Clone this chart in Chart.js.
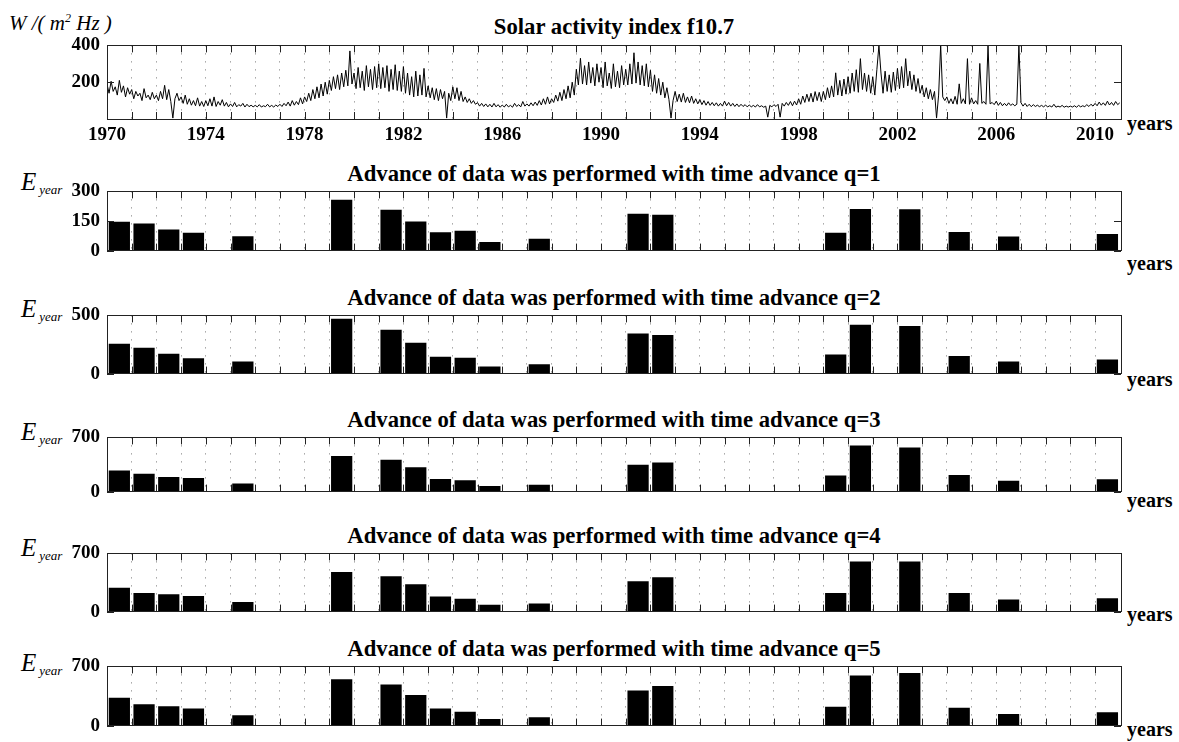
<!DOCTYPE html>
<html>
<head>
<meta charset="utf-8">
<script src="https://cdn.jsdelivr.net/npm/chart.js@4.4.1/dist/chart.umd.min.js"></script>
<style>
  body { margin: 0; background: #fff; }
  #page { position: relative; width: 1179px; height: 742px; overflow: hidden;
          font-family: 'Liberation Serif', 'Times New Roman', serif; color: #000; }
  #page canvas { position: absolute; left: 0; }
  .title { position: absolute; left: 107px; width: 1014px; text-align: center; font-weight: bold;
           font-size: 22.7px; line-height: 22px; white-space: nowrap; }
  .years { position: absolute; left: 1127px; font-weight: bold; font-size: 20px; line-height: 20px; }
  .ylab { position: absolute; font-style: italic; white-space: nowrap; }
</style>
</head>
<body>
<div id="page"></div>
<script>
// x range of every panel (years)
const xMin = 1970;
const xMax = 2011.05;
const xLabelEvery = 4;

const f107Start = 1970;
const f107PerYear = 12;
const f107 = [
  190,140,205,150,175,130,210,145,180,120,170,135, // 1970
  160,110,150,125,140,100,165,115,130,105,145,110, // 1971
  130,100,150,110,183,105,160,95,5,110,140,100,    // 1972
  120,85,130,80,110,75,100,72,115,70,95,68,        // 1973
  100,72,110,70,120,68,95,75,105,70,90,66,         // 1974
  82,68,90,66,78,70,85,65,80,67,75,66,             // 1975
  74,66,78,65,72,67,80,66,74,65,76,68,             // 1976
  80,68,85,72,92,70,100,75,95,78,115,82,           // 1977
  120,95,140,100,160,110,175,115,190,125,200,135,  // 1978
  210,155,230,165,240,160,250,175,265,180,370,190, // 1979
  250,165,280,170,260,155,290,175,270,160,285,170, // 1980
  300,165,280,170,290,150,270,160,295,155,260,150, // 1981
  285,140,250,130,230,120,260,125,240,130,275,120, // 1982
  180,115,170,105,165,100,160,110,150,5,140,100,   // 1983
  175,110,170,100,150,95,120,90,110,85,100,80,     // 1984
  89,70,85,68,82,66,80,65,85,66,78,64,             // 1985
  76,65,80,66,74,64,85,68,78,66,95,70,             // 1986
  82,70,88,72,92,74,100,76,110,80,120,82,          // 1987
  110,90,130,97,145,100,160,110,180,115,200,130,   // 1988
  270,185,330,190,290,185,310,195,280,180,300,200, // 1989
  280,170,310,180,250,166,300,175,260,170,290,185, // 1990
  270,185,300,190,360,195,310,185,290,180,300,175, // 1991
  265,150,240,140,220,130,200,115,170,105,5,100,   // 1992
  150,95,135,92,140,90,120,88,125,85,110,82,       // 1993
  106,78,100,75,95,74,90,72,88,70,85,70,           // 1994
  97,72,90,70,85,68,82,67,80,68,78,66,             // 1995
  76,66,74,65,78,66,72,64,70,10,74,66,             // 1996
  78,68,80,10,85,70,90,74,95,72,97,76,             // 1997
  110,80,125,90,135,95,140,92,149,100,145,95,      // 1998
  150,105,170,115,180,120,251,130,210,125,217,135, // 1999
  230,140,250,150,268,145,328,160,250,150,240,140, // 2000
  230,130,268,400,250,140,260,150,240,145,255,155, // 2001
  275,165,285,170,328,180,260,160,240,150,220,140, // 2002
  183,120,170,110,160,105,150,5,130,400,120,100,   // 2003
  120,85,110,82,123,80,191,85,110,82,328,80,       // 2004
  115,82,100,80,302,85,95,80,400,82,90,78,         // 2005
  97,74,90,72,85,72,88,74,82,72,80,400,            // 2006
  89,70,85,68,80,67,78,68,75,67,74,66,             // 2007
  75,66,72,65,80,64,70,65,74,64,70,65,             // 2008
  70,65,72,64,74,66,72,67,78,68,80,70,             // 2009
  85,72,92,75,88,74,97,76,90,74,95,78,             // 2010
  88
];

// yearly energy E_year for time advance q = 1..5
const barYears = [1970, 1971, 1972, 1973, 1975, 1979, 1981, 1982, 1983, 1984,
                  1985, 1987, 1991, 1992, 1999, 2000, 2002, 2004, 2006, 2010];
const eQ1 = [146, 137, 107, 91, 73, 258, 207, 147, 93, 101, 44, 60, 187, 182, 90, 211, 210, 94, 72, 84];
const eQ2 = [257, 222, 170, 132, 105, 472, 377, 265, 145, 137, 62, 80, 345, 332, 165, 420, 410, 152, 105, 122];
const eQ3 = [272, 230, 190, 176, 105, 460, 410, 313, 163, 148, 73, 90, 348, 377, 209, 596, 571, 213, 140, 158];
const eQ4 = [287, 223, 210, 189, 115, 477, 426, 328, 183, 156, 81, 98, 365, 413, 223, 602, 602, 223, 145, 162];
const eQ5 = [330, 251, 230, 201, 122, 549, 485, 363, 201, 165, 79, 100, 416, 467, 223, 592, 621, 212, 136, 158];
const eSeries = [eQ1, eQ2, eQ3, eQ4, eQ5];
const eMax = [300, 500, 700, 700, 700];
const eStep = [150, 500, 700, 700, 700];

const topTitle = 'Solar activity index f10.7';
const barTitle = 'Advance of data was performed with time advance q=';

// page layout (pixels)
const topLayout = { top: 41, bottom: 119, titleBase: 34, yearsBase: 130 };
const barLayout = [
  { top: 187, bottom: 255, titleBase: 181, yearsBase: 270, eBase: 190 },
  { top: 311, bottom: 378, titleBase: 305, yearsBase: 386, eBase: 317 },
  { top: 433, bottom: 496, titleBase: 427, yearsBase: 507, eBase: 440 },
  { top: 549, bottom: 616, titleBase: 543, yearsBase: 621, eBase: 556 },
  { top: 662, bottom: 730, titleBase: 656, yearsBase: 736, eBase: 671 }
];
const padTop = 14;
const padBottom = 14;
const xAxisH = 30;

Chart.defaults.font.family = "'Liberation Serif', 'Times New Roman', serif";
Chart.defaults.color = '#000';

const page = document.getElementById('page');

function addText(cls, text, top, extra) {
  const d = document.createElement('div');
  d.className = cls;
  d.style.top = top + 'px';
  if (extra) Object.assign(d.style, extra);
  d.innerHTML = text;
  page.appendChild(d);
  return d;
}

function addCanvas(top, height) {
  const c = document.createElement('canvas');
  c.width = 1179;
  c.height = height;
  c.style.top = top + 'px';
  page.appendChild(c);
  return c;
}

// box, inward tick marks
const boxPlugin = {
  id: 'matlabBox',
  afterDraw(chart) {
    const { ctx, chartArea: a, scales: { x, y } } = chart;
    ctx.save();
    ctx.strokeStyle = '#222';
    ctx.lineWidth = 1;
    ctx.beginPath();
    x.ticks.forEach(t => {
      if (!Number.isInteger(t.value)) return;
      const px = Math.round(x.getPixelForValue(t.value)) + 0.5;
      ctx.moveTo(px, a.bottom); ctx.lineTo(px, a.bottom - 7);
      ctx.moveTo(px, a.top); ctx.lineTo(px, a.top + 7);
    });
    y.ticks.forEach(t => {
      const py = Math.round(y.getPixelForValue(t.value)) + 0.5;
      ctx.moveTo(a.left, py); ctx.lineTo(a.left + 7, py);
      ctx.moveTo(a.right, py); ctx.lineTo(a.right - 7, py);
    });
    ctx.stroke();
    ctx.strokeRect(Math.round(a.left) + 0.5, Math.round(a.top) + 0.5,
                   Math.round(a.width), Math.round(a.height));
    ctx.restore();
  }
};

function makeOptions(yMax, yStep, showYears, hideZero) {
  return {
    responsive: false,
    animation: false,
    layout: { padding: { top: padTop, right: 58, bottom: showYears ? 0 : padBottom, left: 0 } },
    plugins: { legend: { display: false }, tooltip: { enabled: false } },
    scales: {
      x: {
        type: 'linear', min: xMin, max: xMax, offset: false,
        grid: { display: true, offset: false, color: '#777', lineWidth: 1, drawTicks: false },
        border: { display: false, dash: [1, 7] },
        ticks: {
          display: showYears, stepSize: 1, autoSkip: false, maxTicksLimit: 100,
          maxRotation: 0, minRotation: 0, padding: 5,
          font: { size: 19, weight: 'bold' }, color: '#000',
          callback: v => (Number.isInteger(v) && (v - xMin) % xLabelEvery === 0 ? String(v) : '')
        },
        afterFit: s => { s.height = showYears ? xAxisH : 0; }
      },
      y: {
        min: 0, max: yMax,
        grid: { display: false, drawTicks: false },
        border: { display: false },
        ticks: {
          stepSize: yStep, padding: 7, font: { size: 19, weight: 'bold' }, color: '#000',
          callback: v => (hideZero && v === 0 ? '' : String(v))
        },
        afterFit: s => { s.width = 107; }
      }
    }
  };
}

// top panel: f10.7
addText('title', topTitle, topLayout.titleBase - 18.4);
addText('ylab', 'W /( m<sup style="font-size:12px">2</sup> Hz )', 8, { left: '9px', fontSize: '21px', lineHeight: '21px' });
addText('years', 'years', topLayout.yearsBase - 16.75);
const topCanvas = addCanvas(topLayout.top - padTop, padTop + (topLayout.bottom - topLayout.top) + xAxisH);
new Chart(topCanvas, {
  type: 'line',
  data: {
    datasets: [{
      data: f107.map((v, i) => ({ x: f107Start + i / f107PerYear, y: v })),
      borderColor: '#000', borderWidth: 1, pointRadius: 0, tension: 0, fill: false
    }]
  },
  options: makeOptions(400, 200, true, true),
  plugins: [boxPlugin]
});

// bar panels
eSeries.forEach((vals, k) => {
  const L = barLayout[k];
  addText('title', barTitle + (k + 1), L.titleBase - 18.4);
  addText('years', 'years', L.yearsBase - 16.75);
  addText('ylab', 'E<span style="font-size:13px; margin-left:3px; vertical-align:-4px">year</span>',
          L.eBase - 21, { left: '21px', fontSize: '25px', lineHeight: '25px' });
  const cv = addCanvas(L.top - padTop, padTop + (L.bottom - L.top) + padBottom);
  new Chart(cv, {
    type: 'bar',
    data: {
      datasets: [{
        data: barYears.map((yr, i) => ({ x: yr + 0.5, y: vals[i] })),
        backgroundColor: '#000', borderWidth: 0,
        categoryPercentage: 1, barPercentage: 0.86
      }]
    },
    options: makeOptions(eMax[k], eStep[k], false, false),
    plugins: [boxPlugin]
  });
});
</script>
</body>
</html>
